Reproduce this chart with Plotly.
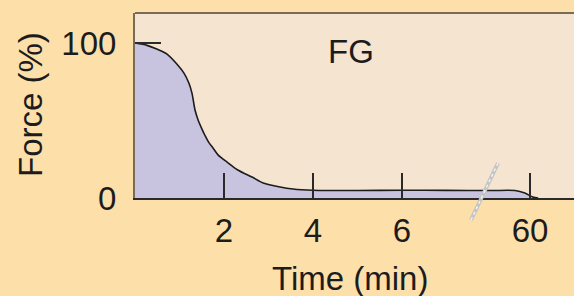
import plotly.graph_objects as go

# Data (x in axis units: 0-6 min linear, then broken axis; tick "60" sits at 8.876)
time_pos = [0, 0.27, 0.49, 0.72, 0.94, 1.10, 1.21, 1.28, 1.35, 1.42, 1.50, 1.57, 1.65,
            1.76, 1.87, 2.07, 2.31, 2.63, 2.88, 3.26, 3.55, 4.0, 5.0, 6.0, 7.0, 8.0,
            8.54, 8.76, 8.94, 9.06]
force = [100, 98.5, 96.1, 92.9, 86.5, 80.6, 74.2, 67.7, 56.6, 50.2, 44.8, 40.5, 36.2,
         32.0, 27.7, 23.2, 18.1, 13.5, 9.7, 7.1, 5.8, 5.0, 4.8, 5.0, 4.9, 4.8,
         4.8, 3.2, 0.6, 0]
x_tick_vals = [2, 4, 6, 8.876]
x_tick_text = ["2", "4", "6", "60"]
y_tick_vals = [0, 100]
y_tick_text = ["0", "100"]

PAPER = "#FDDFAA"
PLOT = "#F5E4CF"
FILL = "#C8C4DF"
INK = "#1c1c1c"
FONT = "Liberation Sans, Arial, sans-serif"
FS = 33

L, T, B = 135, 13, 198
PW, PH = 574 - L, B - T


def px(xp):
    return (xp - L) / PW


def py(yp):
    return (B - yp) / PH


fig = go.Figure()
fig.add_trace(go.Scatter(
    x=time_pos, y=force, mode="lines",
    line=dict(color=INK, width=1.6, shape="spline", smoothing=0.8),
    fill="tozeroy", fillcolor=FILL, hoverinfo="skip", showlegend=False,
))

fig.update_layout(
    width=574, height=296,
    margin=dict(l=L, r=0, t=T, b=296 - B, autoexpand=False),
    paper_bgcolor=PAPER, plot_bgcolor=PLOT,
    font=dict(family=FONT, size=FS, color=INK),
    xaxis=dict(range=[0, 9.865], showgrid=False, zeroline=False,
               showline=True, linecolor="#2a2a2a", linewidth=2,
               ticks="inside", ticklen=25, tickwidth=1.5, tickcolor="#2a2a2a",
               tickvals=x_tick_vals, ticktext=x_tick_text,
               ticklabelstandoff=2),
    yaxis=dict(range=[0, 119.4], showgrid=False, zeroline=False,
               showline=True, linecolor="#7a6a58", linewidth=2,
               ticks="inside", ticklen=26, tickwidth=2, tickcolor="#2a2a2a",
               tickvals=y_tick_vals, ticktext=y_tick_text,
               ticklabelstandoff=10),
    shapes=[
        dict(type="line", xref="paper", yref="paper", x0=0, x1=1, y0=1, y1=1,
             line=dict(color="#7a6a58", width=2)),
        dict(type="line", xref="paper", yref="paper",
             x0=px(471), y0=py(220), x1=px(498), y1=py(163),
             line=dict(color="#C4C4C4", width=4)),
        dict(type="line", xref="paper", yref="paper",
             x0=px(471), y0=py(220), x1=px(498), y1=py(163),
             line=dict(color="#F2F2F2", width=1.5, dash="dot")),
    ],
    annotations=[
        dict(text="FG", xref="paper", yref="paper", x=px(351), y=py(52),
             xanchor="center", yanchor="middle",
             showarrow=False, font=dict(size=FS, color=INK)),
        dict(text="Time (min)", xref="paper", yref="paper", x=px(350), y=py(278),
             xanchor="center", yanchor="middle",
             showarrow=False, font=dict(size=FS, color=INK)),
        dict(text="Force (%)", xref="paper", yref="paper", textangle=-90,
             x=px(30), y=py(105), xanchor="center", yanchor="middle",
             showarrow=False, font=dict(size=FS, color=INK)),
    ],
)

fig.write_html("out.html", config={"displayModeBar": False},
               post_script="document.body.style.margin='0';")
